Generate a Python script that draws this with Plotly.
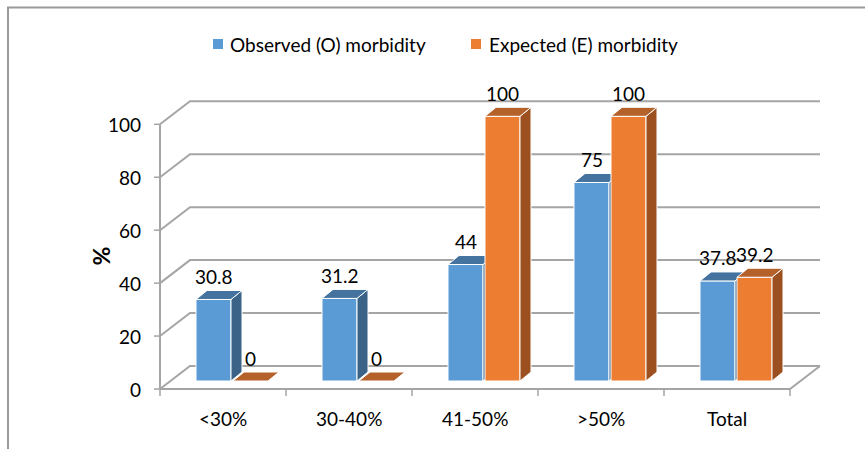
import plotly.graph_objects as go

# ---- data -------------------------------------------------------------
categories = ["<30%", "30-40%", "41-50%", ">50%", "Total"]
observed = [30.8, 31.2, 44, 75, 37.8]
expected = [0, 0, 100, 100, 39.2]
series_names = ["Observed (O) morbidity", "Expected (E) morbidity"]
y_ticks = [0, 20, 40, 60, 80, 100]

# ---- canvas / scale ---------------------------------------------------
W, H = 865, 449
PX_PER_CAT = 126.0   # width of one category on the front plane
PX_PER_PCT = 2.647   # height of 1 % on the front plane
X0_PX = 223.0        # centre of the first category
Y0_PX = 389.0        # baseline (0 %)

x_range = [-X0_PX / PX_PER_CAT, (W - X0_PX) / PX_PER_CAT]
y_range = [-(H - Y0_PX) / PX_PER_PCT, Y0_PX / PX_PER_PCT]


def dx(px):
    return px / PX_PER_CAT


def dy(px):
    return px / PX_PER_PCT


# depth of the walls and the bars (oblique projection)
WALL_DX, WALL_DY = dx(30), dy(23)
BASE_DX, BASE_DY = dx(9), dy(8)
BAR_W, BAR_GAP = dx(35), dx(2)
BAR_DX, BAR_DY = dx(11), dy(9)

FONT = "Lato, 'Open Sans', sans-serif"
FS = 19
GRID = "#A5A5A5"
TXT = "#000000"

colors = [
    {"front": "#5B9BD5", "top": "#44739F", "side": "#3B6388"},
    {"front": "#ED7D31", "top": "#B5612A", "side": "#9C501F"},
]

n = len(categories)
left = -0.5
right = n - 0.5

fig = go.Figure()

# ---- walls, floor and gridlines --------------------------------------
gx, gy = [], []
for t in y_ticks:
    gx += [left, left + WALL_DX, right + WALL_DX, None]
    gy += [t, t + WALL_DY, t + WALL_DY, None]
# floor front edge and right edge
gx += [left, right, right + WALL_DX, None]
gy += [0, 0, WALL_DY, None]
# value axis line
gx += [left, left, None]
gy += [0, y_ticks[-1], None]
fig.add_trace(go.Scatter(x=gx, y=gy, mode="lines",
                         line=dict(color=GRID, width=2),
                         hoverinfo="skip", showlegend=False))

# tick marks
tx, ty = [], []
for t in y_ticks:
    tx += [left - dx(6), left, None]
    ty += [t, t, None]
for i in range(n + 1):
    xb = left + i
    tx += [xb, xb, None]
    ty += [0, -dy(7), None]
fig.add_trace(go.Scatter(x=tx, y=ty, mode="lines",
                         line=dict(color=GRID, width=1.5),
                         hoverinfo="skip", showlegend=False))


def face(xs, ys, color):
    fig.add_trace(go.Scatter(x=xs + [xs[0]], y=ys + [ys[0]], mode="lines",
                             fill="toself", fillcolor=color,
                             line=dict(color="white", width=1),
                             hoverinfo="skip", showlegend=False))


annotations = []
series = [observed, expected]
for i in range(n):
    centre = i + BASE_DX
    for s, vals in enumerate(series):
        v = vals[i]
        c = colors[s]
        if s == 0:
            x0 = centre - BAR_GAP / 2 - BAR_W
        else:
            x0 = centre + BAR_GAP / 2
        x1 = x0 + BAR_W
        b = BASE_DY
        top = b + v
        if v > 0:
            # front
            face([x0, x1, x1, x0], [b, b, top, top], c["front"])
            # side
            face([x1, x1 + BAR_DX, x1 + BAR_DX, x1],
                 [b, b + BAR_DY, top + BAR_DY, top], c["side"])
        # top
        face([x0, x1, x1 + BAR_DX, x0 + BAR_DX],
             [top, top, top + BAR_DY, top + BAR_DY], c["top"])
        annotations.append(dict(
            x=(x0 + x1) / 2, y=top, xref="x", yref="y",
            text=f"{v:g}", showarrow=False, yshift=23,
            font=dict(family=FONT, size=FS, color=TXT)))

# value axis labels
for t in y_ticks:
    annotations.append(dict(
        x=left, y=t, xref="x", yref="y", text=str(t), showarrow=False,
        xanchor="right", xshift=-17,
        font=dict(family=FONT, size=FS, color=TXT)))

# category labels
for i, cat in enumerate(categories):
    annotations.append(dict(
        x=i, y=0, xref="x", yref="y", text=cat, showarrow=False,
        yshift=-29, font=dict(family=FONT, size=FS, color=TXT)))

# axis title
annotations.append(dict(
    x=84.5 / W, y=1 - 256 / H, xref="paper", yref="paper", text="<b>%</b>",
    textangle=-90, showarrow=False,
    font=dict(family=FONT, size=23, color=TXT)))

# legend
shapes = []
legend_pos = [(213, 228), (471, 487)]
for s, name in enumerate(series_names):
    sx, tx0 = legend_pos[s]
    shapes.append(dict(type="rect", xref="paper", yref="paper",
                       x0=sx / W, x1=(sx + 10) / W,
                       y0=1 - 49 / H, y1=1 - 39 / H,
                       fillcolor=colors[s]["front"], line=dict(width=0)))
    annotations.append(dict(
        x=tx0 / W, y=1 - 44 / H, xref="paper", yref="paper", text=name,
        showarrow=False, xanchor="left", yanchor="middle",
        font=dict(family=FONT, size=FS, color=TXT)))

# chart frame
shapes.append(dict(type="rect", xref="paper", yref="paper",
                   x0=8 / W, x1=1.02, y0=-0.02, y1=1 - 7.5 / H,
                   line=dict(color="#9A9A9A", width=2), fillcolor="rgba(0,0,0,0)"))

fig.update_layout(
    width=W, height=H,
    margin=dict(l=0, r=0, t=0, b=0),
    paper_bgcolor="white", plot_bgcolor="white",
    xaxis=dict(range=x_range, visible=False, fixedrange=True),
    yaxis=dict(range=y_range, visible=False, fixedrange=True),
    showlegend=False,
    annotations=annotations,
    shapes=shapes,
)

fig.write_html("out.html")
